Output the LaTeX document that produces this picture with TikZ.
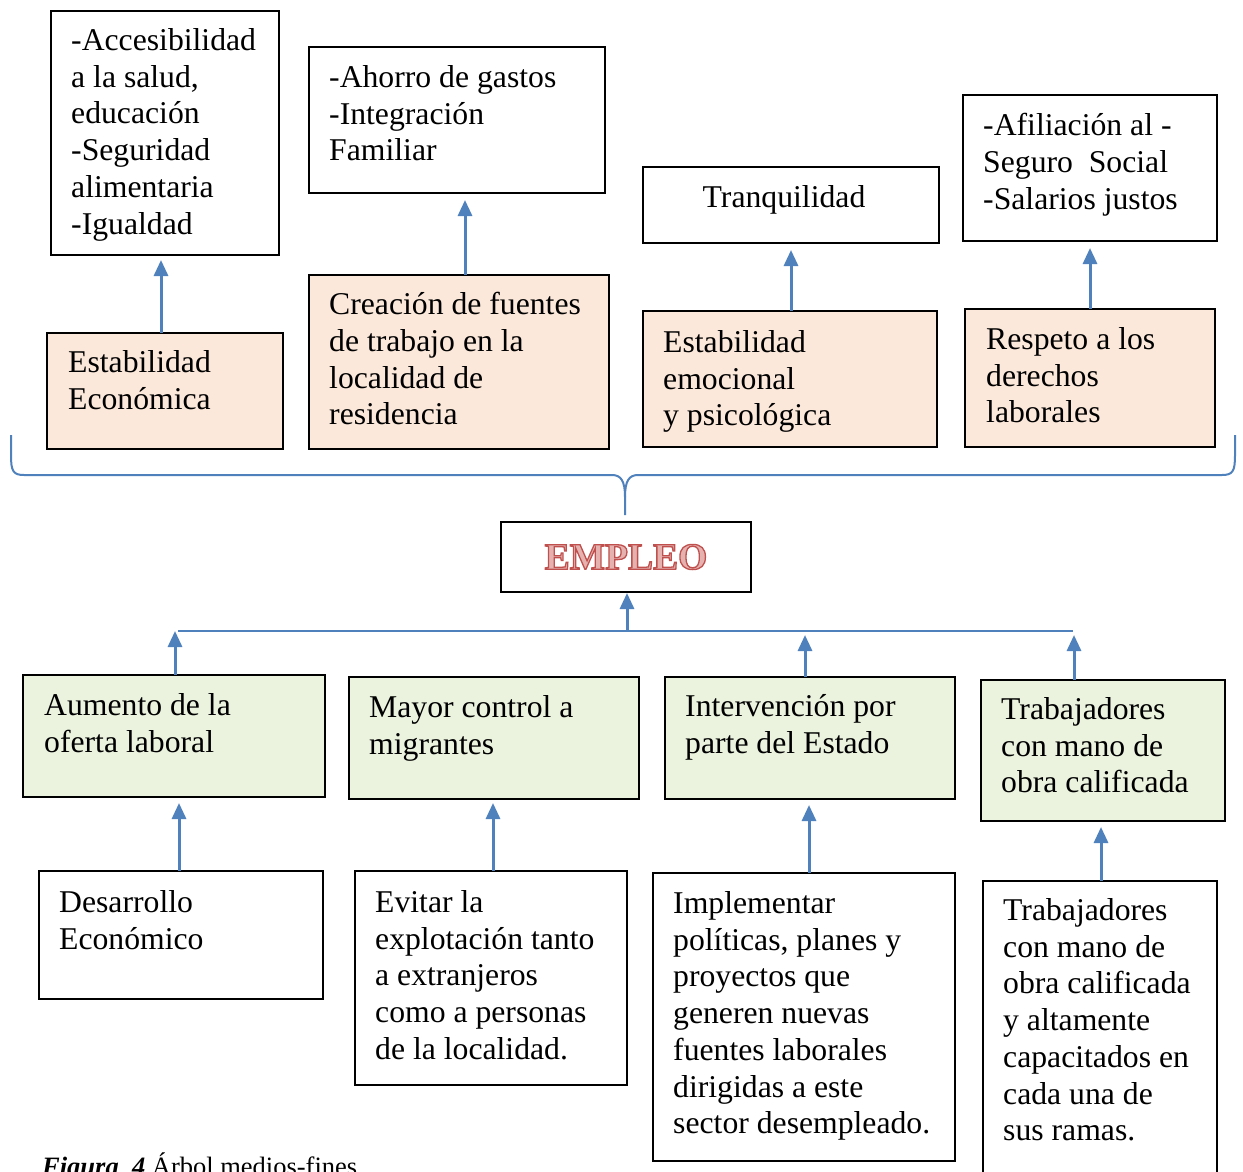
\documentclass[tikz,border=0pt]{standalone}
\usepackage{fontspec}
\setmainfont{Liberation Serif}
\usetikzlibrary{arrows.meta}
\definecolor{peach}{HTML}{FCE8DA}
\definecolor{leaf}{HTML}{EBF3DE}
\definecolor{arrblue}{HTML}{4F81BD}
\definecolor{empred}{HTML}{C0504D}
\tikzset{
  box/.style={draw=black, line width=1.2pt, rectangle, inner sep=0pt, outer sep=0pt},
  whitebox/.style={box, fill=white},
  peachbox/.style={box, fill=peach},
  leafbox/.style={box, fill=leaf},
  txt/.style={anchor=north west, inner sep=0pt, align=left,
    font=\fontsize{31.7}{36.7}\selectfont, execute at begin node=\strut},
  arr/.style={draw=arrblue, line width=3pt, -{Triangle[width=14pt,length=16pt]}},
  conn/.style={draw=arrblue, line width=2.2pt},
  bracepath/.style={draw=arrblue, line width=2pt, line join=round},
}
\newcommand\bx[6]{\node[#2, minimum width={#5-#3}, minimum height={#6-#4}] (#1) at ({(#3+#5)/2},{(#4+#6)/2}) {};}
\newcommand\tx[4]{\node[txt] (#1) at (#2,#3-21.69) {#4};}
\begin{document}
\begin{tikzpicture}[x=1pt,y=-1pt]
\useasboundingbox[fill=white] (0,0) rectangle (1243,1172);

% top row (fines)
\bx{a1}{whitebox}{51}{11}{279}{255}
\bx{a2}{whitebox}{309}{47}{605}{193}
\bx{a3}{whitebox}{643}{167}{939}{243}
\bx{a4}{whitebox}{963}{95}{1217}{241}
\tx{ta1}{71}{50}{-Accesibilidad\\a la salud,\\educación\\-Seguridad\\alimentaria\\-Igualdad}
\tx{ta2}{329}{87}{-Ahorro de gastos\\-Integración\\Familiar}
\node[anchor=base, inner sep=0pt, font=\fontsize{31.7}{36.7}\selectfont] (ta3) at (784,207) {Tranquilidad};
\tx{ta4}{983}{135}{-Afiliación al -\\Seguro\ \ Social\\-Salarios justos}

% second row (peach)
\bx{b1}{peachbox}{47}{333}{283}{449}
\bx{b2}{peachbox}{309}{275}{609}{449}
\bx{b3}{peachbox}{643}{311}{937}{447}
\bx{b4}{peachbox}{965}{309}{1215}{447}
\tx{tb1}{68}{372}{Estabilidad\\Económica}
\tx{tb2}{329}{314}{Creación de fuentes\\de trabajo en la\\localidad de\\residencia}
\tx{tb3}{663}{352}{Estabilidad\\emocional\\y psicológica}
\tx{tb4}{986}{349}{Respeto a los\\derechos\\laborales}

\draw[arr, shorten >=5pt] (161,0 |- b1.north) -- (161,0 |- a1.south);
\draw[arr, shorten >=7pt] (465,0 |- b2.north) -- (465,0 |- a2.south);
\draw[arr, shorten >=7pt] (791,0 |- b3.north) -- (791,0 |- a3.south);
\draw[arr, shorten >=7pt] (1090,0 |- b4.north) -- (1090,0 |- a4.south);

% brace
\coordinate (btip) at (625,515);
\draw[bracepath] (11,435) -- (11,455) .. controls (11,471) and (13,475) .. (24,475)
  -- (612,475) .. controls (621,475) and (625,481) .. (625,497) -- (btip);
\draw[bracepath] (625,497) .. controls (625,481) and (629,475) .. (638,475)
  -- (1222,475) .. controls (1233,475) and (1235,471) .. (1235,455) -- (1235,435);

% EMPLEO
\node[whitebox, minimum width=250, minimum height=70, font=\fontsize{37.5}{40}\selectfont\bfseries, text=empred] (emp) at (626,557)
  {\special{pdf:literal 2 Tr 1.3 w 0.753 0.314 0.302 RG 0.90 0.70 0.69 rg}EMPLEO\special{pdf:literal 0 Tr}};

% horizontal connector line
\coordinate (hl) at (178,631);
\coordinate (hr) at (1073,631);
\draw[conn] (hl) -- (hr);
\draw[arr, shorten >=1pt] (627,0 |- hl) -- (627,0 |- emp.south);

% green row (medios)
\bx{g1}{leafbox}{23}{675}{325}{797}
\bx{g2}{leafbox}{349}{677}{639}{799}
\bx{g3}{leafbox}{665}{677}{955}{799}
\bx{g4}{leafbox}{981}{680}{1225}{821}
\tx{tg1}{44}{715}{Aumento de la\\oferta laboral}
\tx{tg2}{369}{717}{Mayor control a\\migrantes}
\tx{tg3}{685}{716}{Intervención por\\parte del Estado}
\tx{tg4}{1001}{719}{Trabajadores\\con mano de\\obra calificada}

\draw[arr] (175,0 |- g1.north) -- (175,0 |- hl);
\draw[arr, shorten >=4pt] (805,0 |- g3.north) -- (805,0 |- hl);
\draw[arr, shorten >=4pt] (1074,0 |- g4.north) -- (1074,0 |- hl);

% bottom row
\bx{w1}{whitebox}{39}{871}{323}{999}
\bx{w2}{whitebox}{355}{871}{627}{1085}
\bx{w3}{whitebox}{653}{873}{955}{1161}
\bx{w4}{whitebox}{983}{881}{1217}{1190}
\tx{tw1}{59}{912}{Desarrollo\\Económico}
\tx{tw2}{375}{912}{Evitar la\\explotación tanto\\a extranjeros\\como a personas\\de la localidad.}
\tx{tw3}{673}{913}{Implementar\\políticas, planes y\\proyectos que\\generen nuevas\\fuentes laborales\\dirigidas a este\\sector desempleado.}
\tx{tw4}{1003}{920}{Trabajadores\\con mano de\\obra calificada\\y altamente\\capacitados en\\cada una de\\sus ramas.}

\draw[arr, shorten >=6pt] (179,0 |- w1.north) -- (179,0 |- g1.south);
\draw[arr, shorten >=4pt] (493,0 |- w2.north) -- (493,0 |- g2.south);
\draw[arr, shorten >=6pt] (809,0 |- w3.north) -- (809,0 |- g3.south);
\draw[arr, shorten >=6pt] (1101,0 |- w4.north) -- (1101,0 |- g4.south);

% caption
\node[anchor=base west, inner sep=0pt, font=\fontsize{26.5}{30}\selectfont] (cap) at (42,1175)
  {\textbf{\textit{Figura\ \ 4}} Árbol medios-fines};
\end{tikzpicture}
\end{document}
